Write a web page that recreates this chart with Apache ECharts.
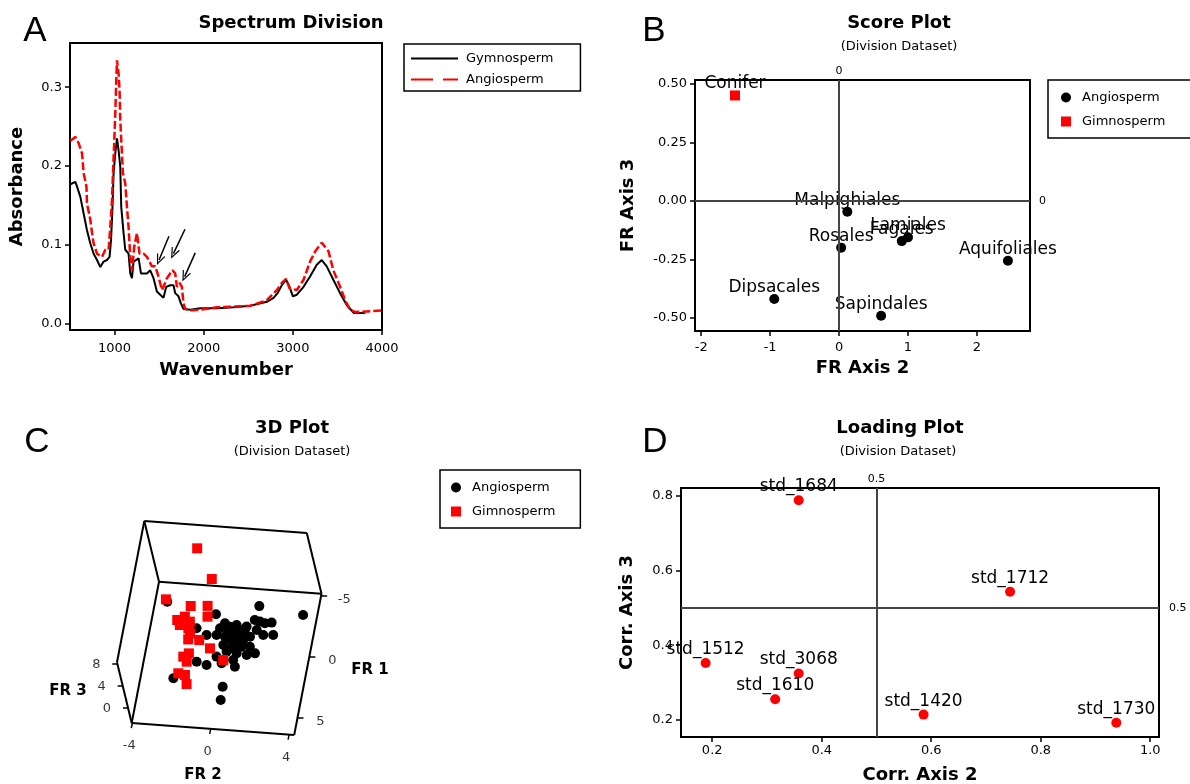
<!DOCTYPE html>
<html>
<head>
<meta charset="utf-8">
<title>Division Dataset</title>
<script src="https://cdn.jsdelivr.net/npm/echarts@6.0.0/dist/echarts.min.js"></script>
<style>
  html, body { margin: 0; padding: 0; background: #fff; }
  #chart { width: 1190px; height: 784px; }
</style>
</head>
<body>
<div id="chart"></div>
<script>
// ---------- A: spectrum ----------
const gymnoWave = [505, 525, 560, 579, 616, 653, 690, 728, 765, 803, 840, 877, 915, 944, 960, 974, 989, 1008, 1027, 1045,
  1064, 1075, 1101, 1120, 1157, 1176, 1195, 1213, 1270, 1296, 1363, 1400, 1437, 1475, 1512, 1549, 1579, 1624, 1661, 1680,
  1717, 1744, 1773, 1850, 1963, 2150, 2336, 2521, 2708, 2783, 2829, 2876, 2924, 2963, 3000, 3045, 3120, 3193, 3268, 3324,
  3380, 3454, 3530, 3604, 3682, 3811];
const gymnoAbs = [0.177, 0.178, 0.180, 0.174, 0.161, 0.140, 0.119, 0.102, 0.089, 0.081, 0.072, 0.079, 0.081, 0.085, 0.106, 0.140, 0.191, 0.216, 0.235, 0.220,
  0.199, 0.148, 0.115, 0.094, 0.089, 0.064, 0.058, 0.079, 0.083, 0.064, 0.064, 0.068, 0.058, 0.041, 0.037, 0.033, 0.047, 0.049, 0.049, 0.039,
  0.035, 0.026, 0.019, 0.018, 0.020, 0.020, 0.021, 0.023, 0.028, 0.033, 0.039, 0.049, 0.056, 0.047, 0.035, 0.037, 0.047, 0.060, 0.075, 0.081,
  0.073, 0.056, 0.039, 0.024, 0.014, 0.014];
const angioWave = [505, 525, 560, 597, 635, 653, 685, 690, 728, 747, 765, 803, 859, 896, 933, 952, 971, 982, 997, 1008,
  1019, 1027, 1045, 1056, 1064, 1075, 1094, 1120, 1139, 1157, 1176, 1195, 1221, 1251, 1280, 1325, 1363, 1419, 1456, 1493,
  1531, 1568, 1587, 1650, 1680, 1699, 1729, 1755, 1773, 1793, 1850, 1963, 2150, 2521, 2708, 2822, 2876, 2924, 2963, 3045,
  3120, 3193, 3251, 3324, 3400, 3454, 3530, 3587, 3642, 3700, 4000];
const angioAbs = [0.232, 0.233, 0.237, 0.229, 0.216, 0.191, 0.174, 0.153, 0.132, 0.115, 0.102, 0.089, 0.085, 0.094, 0.094, 0.123, 0.157, 0.191, 0.233, 0.267,
  0.309, 0.334, 0.317, 0.296, 0.258, 0.233, 0.191, 0.178, 0.148, 0.123, 0.085, 0.068, 0.098, 0.115, 0.089, 0.089, 0.085, 0.073, 0.073, 0.060,
  0.043, 0.052, 0.058, 0.068, 0.064, 0.047, 0.052, 0.047, 0.026, 0.019, 0.017, 0.018, 0.021, 0.023, 0.030, 0.043, 0.052, 0.057, 0.045, 0.043,
  0.056, 0.079, 0.092, 0.103, 0.092, 0.068, 0.047, 0.030, 0.018, 0.015, 0.017];
// arrows pointing at the bands (tail -> head, data coordinates)
const arrowTail = [[1610, 0.111], [1790, 0.120], [1905, 0.090]];
const arrowHead = [[1499, 0.081], [1660, 0.089], [1786, 0.060]];

// ---------- B: score plot ----------
const orderNames = ['Malpighiales', 'Rosales', 'Fagales', 'Lamiales', 'Aquifoliales', 'Dipsacales', 'Sapindales'];
const orderFR2 = [0.12, 0.03, 0.91, 1.00, 2.45, -0.94, 0.61];
const orderFR3 = [-0.046, -0.199, -0.171, -0.155, -0.255, -0.418, -0.490];
const coniferNames = ['Conifer'];
const coniferFR2 = [-1.51];
const coniferFR3 = [0.451];

// ---------- C: 3D plot ----------
const angioFR2 = [-2.96, -0.51, 1.47, 3.88, -1.23, -0.78, -0.40, 0.03, 0.43, 0.63, 0.81, 1.15, 1.62, 1.77, 1.92, 2.37, 2.19, 2.57, 1.57, 1.42, 1.23, 0.81, 0.32,
  0.16, 0.51, 0.91, 1.31, 1.83, 0.92, 0.95, 0.13, -0.07, -0.90, -0.49, -2.15, 0.53, 0.44, 0.28, 1.21, 0.55, -0.29, 1.13, 1.63, 0.16, 0.71, 0.61];
const angioFR1 = [-1.92, -1.64, -2.99, -2.10, 0.04, 0.08, -0.42, -0.97, -0.29, -0.90, -0.97, -0.83, -0.97, -1.31, -1.64, -1.30, 0.18, -0.31, -1.06, -0.04, 0.71, 0.57, -0.10,
  0.79, 1.74, 1.38, 1.01, 1.27, 2.37, 2.46, 1.83, 1.76, 2.72, 2.49, 3.32, 4.14, 4.78, -0.32, 1.25, -0.21, -0.97, -0.28, 1.20, 0.11, -0.41, 1.00];
const angioFR3 = [1, 0, -1, 0, 1, 0, -1, 0, 1, 0, -1, 0, 1, 0, -1, 0, 1, 0, -1, 0, 1, 0, -1,
  0, 1, 0, -1, 0, 1, 0, -1, 0, 1, 0, -1, 0, -1, 0, 1, 0, -1, 0, 1, 0, -1, 0];
const gymnoFR2 = [-1.25, -0.46, -2.93, -1.50, -0.65, -0.67, -2.16, -1.69, -1.51, -1.98, -1.64, -1.54, -0.86, -0.36, -1.50, -1.37, -1.40, 0.30, -1.59, -1.36, -1.19, -1.51];
const gymnoFR1 = [-3.78, -2.27, -1.67, -0.85, -0.96, -0.53, -0.08, 0.04, -0.02, 0.31, 0.09, 0.98, 1.40, 1.57, 2.83, 2.10, 2.78, 1.99, 4.20, 3.86, 4.58, 0.49];
const gymnoFR3 = [7, 5, 2, 3, 3, 2, 2, 3, 2, 2, 1, 1, 2, 1, 2, 1, 1, 0, 2, 1, 1, 1];
const fr2Ticks = [-4, 0, 4];
const fr1Ticks = [-5, 0, 5];
const fr3Ticks = [0, 4, 8];

// ---------- D: loading plot ----------
const loadingNames = ['std_1684', 'std_1712', 'std_1512', 'std_3068', 'std_1610', 'std_1420', 'std_1730'];
const loadingAxis2 = [0.358, 0.744, 0.188, 0.358, 0.315, 0.586, 0.938];
const loadingAxis3 = [0.788, 0.543, 0.352, 0.324, 0.255, 0.214, 0.192];

// ------------------------------------------------------------
const FONT = 'DejaVu Sans';

// 3D box: axis extents and how the box sits on the page
const fr2Range = [-4.03, 4.26];
const fr1Range = [-5.14, 6.38];
const fr3Range = [-2.8, 8.2];
const boxOrigin = [159, 581.7];
const edgeFR2 = [162.5, 12];
const edgeFR1 = [-27.3, 141.3];
const edgeFR3 = [-14.7, -60.7];

function norm(v, r) {
    return (v - r[0]) / (r[1] - r[0]);
}
function project(fr2, fr1, fr3) {
    let a = norm(fr2, fr2Range), b = norm(fr1, fr1Range), c = norm(fr3, fr3Range);
    return [boxOrigin[0] + a * edgeFR2[0] + b * edgeFR1[0] + c * edgeFR3[0],
            boxOrigin[1] + a * edgeFR2[1] + b * edgeFR1[1] + c * edgeFR3[1]];
}
function corner(k) {
    return project(fr2Range[k[0]], fr1Range[k[1]], fr3Range[k[2]]);
}
function shift(p, dx, dy) {
    return [p[0] + dx, p[1] + dy];
}

const boxEdges = [
    [[0, 0, 1], [1, 0, 1]], [[0, 0, 0], [1, 0, 0]], [[0, 0, 1], [0, 0, 0]], [[1, 0, 1], [1, 0, 0]],
    [[0, 0, 1], [0, 1, 1]], [[0, 0, 0], [0, 1, 0]], [[0, 1, 1], [0, 1, 0]], [[0, 1, 0], [1, 1, 0]],
    [[1, 0, 0], [1, 1, 0]]
];
let boxLines = boxEdges.map(e => ({coords: [corner(e[0]), corner(e[1])]}));
let tickLines = [];
let tickLabels = [];
fr3Ticks.forEach(v => {
    let p = project(fr2Range[0], fr1Range[1], v);
    tickLines.push({coords: [p, shift(p, -5, 0)]});
    tickLabels.push({name: String(v), value: shift(p, -21, 1)});
});
fr2Ticks.forEach(v => {
    let p = project(v, fr1Range[1], fr3Range[0]);
    tickLines.push({coords: [p, shift(p, -1, 5)]});
    tickLabels.push({name: String(v), value: shift(p, -3, 23)});
});
fr1Ticks.forEach(v => {
    let p = project(fr2Range[1], v, fr3Range[0]);
    tickLines.push({coords: [p, shift(p, 6, 0)]});
    tickLabels.push({name: String(v), value: shift(p, 23, 4)});
});

function zip(xs, ys) {
    return xs.map((x, i) => [x, ys[i]]);
}

function valueAxis(gridIndex, min, max, ticks, fmt, name, nameGap, margin) {
    return {
        type: 'value', gridIndex: gridIndex, min: min, max: max,
        name: name, nameLocation: 'middle', nameGap: nameGap,
        nameTextStyle: {fontFamily: FONT, fontSize: 18, fontWeight: 'bold', color: '#000'},
        axisLine: {show: true, onZero: false, lineStyle: {color: '#000', width: 2}},
        axisTick: {show: true, length: 5, customValues: ticks, lineStyle: {color: '#000', width: 1.5}},
        axisLabel: {customValues: ticks, formatter: fmt, margin: margin,
            fontFamily: FONT, fontSize: 13, color: '#000'},
        splitLine: {show: false}
    };
}
function hiddenAxis(gridIndex, max, inverse) {
    return {type: 'value', gridIndex: gridIndex, min: 0, max: max, inverse: inverse, show: false,
        splitLine: {show: false}};
}

const gridBox = {show: true, borderColor: '#000', borderWidth: 2, backgroundColor: 'transparent',
    containLabel: false, outerBoundsMode: 'none'};

function text(x, y, str, size, bold, family) {
    return {
        type: 'text', x: x, y: y, silent: true,
        style: {
            text: str, fill: '#000',
            font: (bold ? 'bold ' : '') + size + 'px "' + (family || FONT) + '"',
            align: 'center', verticalAlign: 'middle',
            textAlign: 'center', textVerticalAlign: 'middle'
        }
    };
}

const arrowPath = 'path://M0,10 L5,0 L10,10 L8.6,10 L5,2.8 L1.4,10 Z';
// legend icons for the two spectra: a plain stroke and a two-dash stroke
const solidIcon = 'path://M0,0 H47 V2 H0 Z';
const dashIcon = 'path://M0,0 H22 V2 H0 Z M32,0 H47 V2 H32 Z';
const pointLabel = {show: true, position: 'top', distance: -2, formatter: '{b}',
    fontFamily: FONT, fontSize: 17, color: '#000'};

let option = {
    animation: false,
    backgroundColor: '#fff',
    textStyle: {fontFamily: FONT},
    grid: [
        Object.assign({left: 70, top: 43, width: 312, height: 287}, gridBox),
        Object.assign({left: 695, top: 80, width: 335, height: 251}, gridBox),
        {left: 0, top: 0, width: 1190, height: 784, show: false, containLabel: false, outerBoundsMode: 'none'},
        Object.assign({left: 681, top: 488, width: 478, height: 249}, gridBox)
    ],
    xAxis: [
        valueAxis(0, 500, 4000, [1000, 2000, 3000, 4000], v => String(v), 'Wavenumber', 31, 12),
        valueAxis(1, -2.09, 2.77, [-2, -1, 0, 1, 2], v => String(v), 'FR Axis 2', 28, 10),
        hiddenAxis(2, 1190, false),
        valueAxis(3, 0.143, 1.016, [0.2, 0.4, 0.6, 0.8, 1.0], v => v.toFixed(1), 'Corr. Axis 2', 29, 7)
    ],
    yAxis: [
        valueAxis(0, -0.0077, 0.356, [0, 0.1, 0.2, 0.3], v => v.toFixed(1), 'Absorbance', 44, 8),
        valueAxis(1, -0.555, 0.517, [-0.5, -0.25, 0, 0.25, 0.5], v => v.toFixed(2), 'FR Axis 3', 58, 8),
        hiddenAxis(2, 784, true),
        valueAxis(3, 0.154, 0.821, [0.2, 0.4, 0.6, 0.8], v => v.toFixed(1), 'Corr. Axis 3', 45, 8)
    ],
    legend: [
        {
            orient: 'vertical', left: 404, top: 44, padding: [8, 27, 5, 7],
            itemWidth: 47, itemHeight: 14, itemGap: 8, selectedMode: false,
            borderColor: '#000', borderWidth: 1.5,
            textStyle: {fontFamily: FONT, fontSize: 13, color: '#000', padding: [0, 0, 0, 3]},
            formatter: n => n.slice(2),
            data: [
                {name: 'A-Gymnosperm', icon: solidIcon, itemStyle: {color: '#000'}},
                {name: 'A-Angiosperm', icon: dashIcon, itemStyle: {color: '#ff0000'}}
            ]
        },
        {
            orient: 'vertical', left: 1048, top: 80, padding: [11, 45, 10, 13],
            itemWidth: 10, itemHeight: 10, itemGap: 11, selectedMode: false,
            borderColor: '#000', borderWidth: 1.5,
            textStyle: {fontFamily: FONT, fontSize: 13, color: '#000', padding: [0, 0, 0, 6]},
            data: ['Angiosperm', 'Gimnosperm']
        },
        {
            orient: 'vertical', left: 440, top: 470, padding: [11, 25, 10, 11],
            itemWidth: 10, itemHeight: 10, itemGap: 11, selectedMode: false,
            borderColor: '#000', borderWidth: 1.5,
            textStyle: {fontFamily: FONT, fontSize: 13, color: '#000', padding: [0, 0, 0, 6]},
            data: ['Angiosperm', 'Gimnosperm']
        }
    ],
    graphic: [
        text(35, 31, 'A', 35, false, 'Liberation Sans'),
        text(654, 31, 'B', 35, false, 'Liberation Sans'),
        text(37, 442, 'C', 35, false, 'Liberation Sans'),
        text(655, 442, 'D', 35, false, 'Liberation Sans'),
        text(291, 23, 'Spectrum Division', 18, true),
        text(899, 23, 'Score Plot', 18, true),
        text(899, 47, '(Division Dataset)', 13, false),
        text(292, 428, '3D Plot', 18, true),
        text(292, 452, '(Division Dataset)', 13, false),
        text(900, 428, 'Loading Plot', 18, true),
        text(898, 452, '(Division Dataset)', 13, false),
        text(68, 691, 'FR 3', 15, true),
        text(370, 670, 'FR 1', 15, true),
        text(203, 775, 'FR 2', 15, true)
    ],
    series: [
        // A
        {
            name: 'A-Gymnosperm', type: 'line', xAxisIndex: 0, yAxisIndex: 0,
            symbol: 'none', showSymbol: false, silent: true,
            lineStyle: {color: '#000', width: 2},
            itemStyle: {color: '#000'},
            data: zip(gymnoWave, gymnoAbs)
        },
        {
            name: 'A-Angiosperm', type: 'line', xAxisIndex: 0, yAxisIndex: 0,
            symbol: 'none', showSymbol: false, silent: true,
            lineStyle: {color: '#ff0000', width: 2.5, type: [8, 3]},
            itemStyle: {color: '#ff0000'},
            data: zip(angioWave, angioAbs),
            markLine: {
                silent: true, animation: false,
                symbol: ['none', arrowPath], symbolSize: [9, 11],
                lineStyle: {color: '#000', width: 1.5, type: 'solid'},
                label: {show: false},
                data: arrowTail.map((t, i) => [{coord: t}, {coord: arrowHead[i]}])
            }
        },
        // B
        {
            name: 'Angiosperm', type: 'scatter', xAxisIndex: 1, yAxisIndex: 1,
            symbol: 'circle', symbolSize: 10, silent: true,
            itemStyle: {color: '#000', opacity: 1},
            label: pointLabel,
            data: orderNames.map((n, i) => ({name: n, value: [orderFR2[i], orderFR3[i]]})),
            markLine: {
                silent: true, animation: false, symbol: 'none',
                lineStyle: {color: '#444', width: 2, type: 'solid'},
                label: {show: true, position: 'end', formatter: '0',
                    fontFamily: FONT, fontSize: 11, color: '#000'},
                data: [{xAxis: 0, label: {distance: 3}}, {yAxis: 0, label: {distance: 9}}]
            },
            z: 3
        },
        {
            name: 'Gimnosperm', type: 'scatter', xAxisIndex: 1, yAxisIndex: 1,
            symbol: 'rect', symbolSize: 10, silent: true,
            itemStyle: {color: '#ff0000', opacity: 1},
            label: pointLabel,
            data: coniferNames.map((n, i) => ({name: n, value: [coniferFR2[i], coniferFR3[i]]})),
            z: 3
        },
        // C
        {
            type: 'lines', coordinateSystem: 'cartesian2d', xAxisIndex: 2, yAxisIndex: 2,
            silent: true, lineStyle: {color: '#000', width: 2, opacity: 1},
            data: boxLines
        },
        {
            type: 'lines', coordinateSystem: 'cartesian2d', xAxisIndex: 2, yAxisIndex: 2,
            silent: true, lineStyle: {color: '#000', width: 1.5, opacity: 1},
            data: tickLines
        },
        {
            type: 'scatter', xAxisIndex: 2, yAxisIndex: 2, symbolSize: 0, silent: true,
            label: {show: true, position: 'inside', formatter: p => p.name,
                fontFamily: FONT, fontSize: 13, color: '#000'},
            data: tickLabels
        },
        {
            name: 'Angiosperm', type: 'scatter', xAxisIndex: 2, yAxisIndex: 2,
            symbol: 'circle', symbolSize: 10, silent: true,
            itemStyle: {color: '#000', opacity: 1},
            data: angioFR2.map((v, i) => project(v, angioFR1[i], angioFR3[i]))
        },
        {
            name: 'Gimnosperm', type: 'scatter', xAxisIndex: 2, yAxisIndex: 2,
            symbol: 'rect', symbolSize: 10, silent: true,
            itemStyle: {color: '#ff0000', opacity: 1},
            data: gymnoFR2.map((v, i) => project(v, gymnoFR1[i], gymnoFR3[i]))
        },
        // D
        {
            name: 'Loadings', type: 'scatter', xAxisIndex: 3, yAxisIndex: 3,
            symbol: 'circle', symbolSize: 10, silent: true,
            itemStyle: {color: '#ff0000', opacity: 1},
            label: Object.assign({}, pointLabel, {distance: 0}),
            data: loadingNames.map((n, i) => ({name: n, value: [loadingAxis2[i], loadingAxis3[i]]})),
            markLine: {
                silent: true, animation: false, symbol: 'none',
                lineStyle: {color: '#444', width: 2, type: 'solid'},
                label: {show: true, position: 'end', formatter: '0.5',
                    fontFamily: FONT, fontSize: 11, color: '#000'},
                data: [{xAxis: 0.5, label: {distance: 3}}, {yAxis: 0.5, label: {distance: 10}}]
            },
            z: 3
        }
    ]
};

let chart = echarts.init(document.getElementById('chart'));
chart.setOption(option);
</script>
</body>
</html>
